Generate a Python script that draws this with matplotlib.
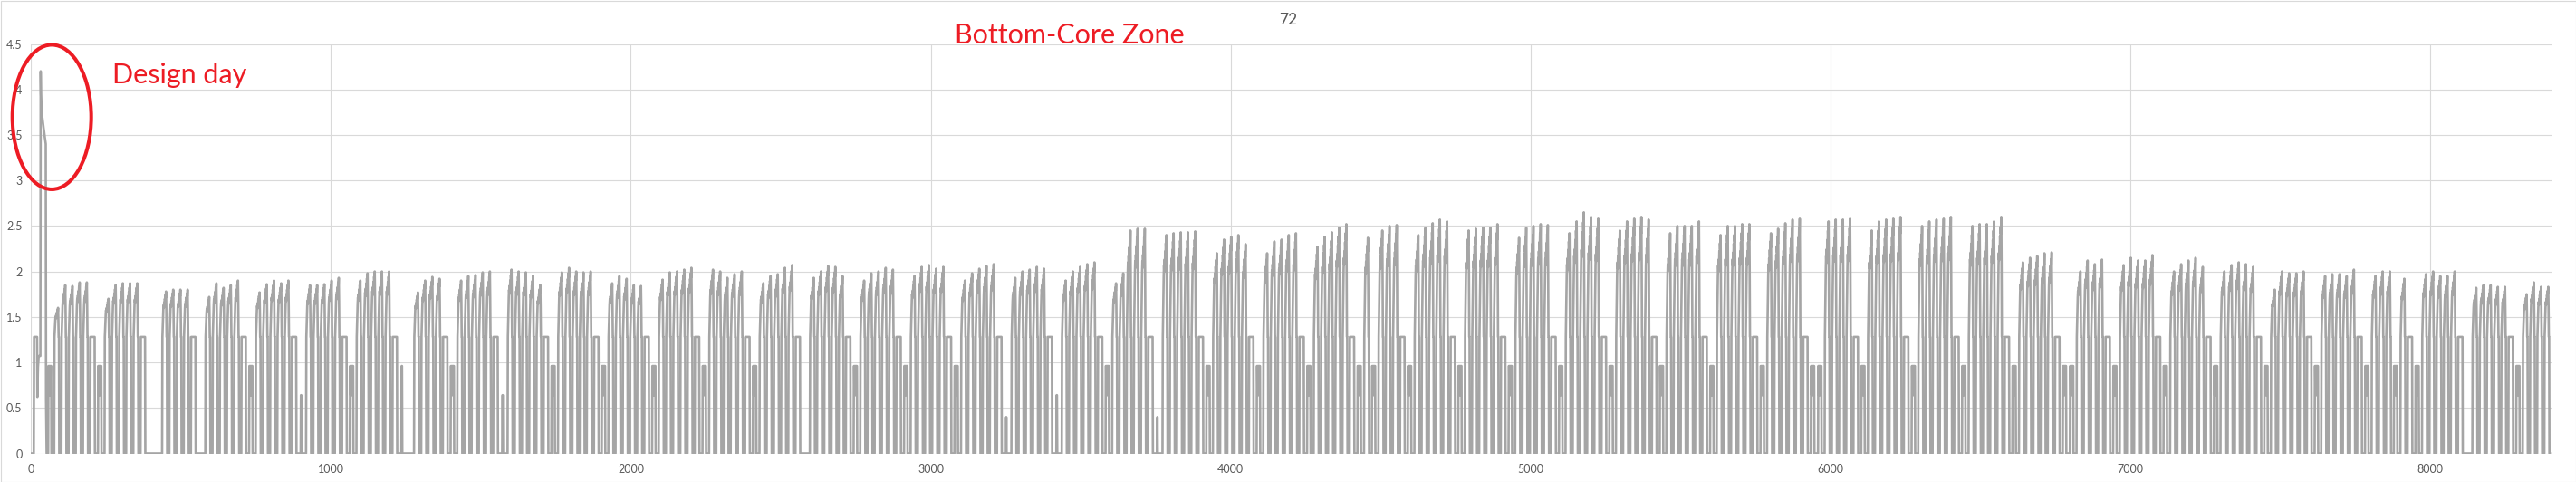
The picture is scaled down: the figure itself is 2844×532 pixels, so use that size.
import numpy as np
import matplotlib.pyplot as plt
from matplotlib.patches import Ellipse, Rectangle

plt.rcParams['font.family'] = ['Lato', 'DejaVu Sans']

# ---- data ----
n_hours = 8400
base_level = 1.28

# Jan 1-3 hourly, with the design day spike
start_hours = ([0] * 10 + [1.28] * 11 + [0.62, 0.80, 0.95, 1.00, 1.05] + [1.07] * 6 +
               [4.20, 3.95, 3.85, 3.80, 3.75, 3.70, 3.68, 3.65,
                3.62, 3.60, 3.57, 3.55, 3.52, 3.50, 3.47, 3.45, 3.42, 3.40, 0.60, 0.30] +
               [0] * 6 + [0.96, 0.96, 0.64, 0.96, 0.96, 0.96, 0.64, 0.96, 0.96, 0.96] + [0] * 4)

# weekday peaks Mon..Fri for each week from Jan 4 on (None = holiday)
day_peaks = [
    [1.60, 1.85, 1.84, 1.88, 1.88],
    [1.70, 1.85, 1.87, 1.87, 1.87],
    [None, 1.78, 1.80, 1.80, 1.80],
    [1.72, 1.87, 1.82, 1.85, 1.90],
    [1.77, 1.86, 1.90, 1.87, 1.90],
    [1.85, 1.85, 1.86, 1.90, 1.93],
    [1.90, 1.98, 2.00, 2.00, 2.00],
    [None, 1.77, 1.90, 1.94, 1.92],
    [1.90, 1.95, 1.96, 1.99, 2.00],
    [2.02, 2.00, 1.99, 1.95, 1.85],
    [1.99, 2.04, 2.00, 1.99, 2.00],
    [1.87, 1.95, 1.92, 1.85, 1.84],
    [1.91, 1.99, 2.00, 2.02, 2.04],
    [2.02, 2.00, 1.93, 1.97, 2.00],
    [1.87, 1.95, 1.97, 2.04, 2.07],
    [1.93, 2.00, 2.06, 2.05, 1.95],
    [1.90, 1.98, 2.00, 2.04, 2.02],
    [1.95, 2.05, 2.07, 2.03, 2.05],
    [1.90, 1.98, 2.03, 2.06, 2.08],
    [1.93, 2.00, 2.02, 2.05, 2.03],
    [1.90, 2.00, 2.05, 2.08, 2.10],
    [1.87, 1.98, 2.45, 2.47, 2.47],
    [2.40, 2.42, 2.43, 2.43, 2.44],
    [2.20, 2.35, 2.38, 2.40, 2.30],
    [2.20, 2.33, 2.35, 2.40, 2.42],
    [2.27, 2.38, 2.43, 2.48, 2.52],
    [2.37, None, 2.45, 2.50, 2.51],
    [2.40, 2.48, 2.53, 2.57, 2.55],
    [2.45, 2.47, 2.48, 2.48, 2.52],
    [2.37, 2.48, 2.50, 2.52, 2.51],
    [2.42, 2.55, 2.65, 2.60, 2.58],
    [2.45, 2.55, 2.58, 2.60, 2.57],
    [2.42, 2.50, 2.50, 2.50, 2.55],
    [2.40, 2.50, 2.50, 2.52, 2.52],
    [2.42, 2.47, 2.53, 2.57, 2.58],
    [None, 2.55, 2.57, 2.57, 2.58],
    [2.45, 2.55, 2.57, 2.58, 2.60],
    [2.50, 2.55, 2.57, 2.58, 2.60],
    [2.50, 2.52, 2.52, 2.55, 2.60],
    [2.10, 2.15, 2.17, 2.20, 2.21],
    [None, 2.00, 2.12, 2.08, 2.13],
    [2.07, 2.15, 2.12, 2.12, 2.18],
    [2.00, 2.08, 2.12, 2.15, 2.05],
    [2.00, 2.07, 2.10, 2.08, 2.05],
    [1.80, 2.00, 1.98, 1.98, 2.00],
    [1.95, 1.97, 1.97, 1.95, 2.02],
    [1.95, 2.00, 2.00, None, 1.92],
    [1.97, 2.00, 1.95, 1.95, 2.00],
    [1.82, 1.85, 1.85, 1.83, 1.83],
    [1.75, 1.88, 1.83, 1.83, 1.85],
]
# holidays that still run the low (0.96) schedule; the other None days are off
low_days = [(26, 1), (35, 0), (40, 0), (46, 3)]
# Sunday of each week: B = low block, t = short 0.96, s = short 0.64, q = tiny, - = off
sunday_kind = "B--BsBtBsB" "BBBB-BBBqs" "BqBBBBBBBB" "BBBBBBBBBB" "BBBBBBB-BB"

# hourly shapes of one day
weekday_frac = ([None] * 6 +
                [0, .2, .45, .6, .7, .64, .76, .7, .84, .78, .92, .86, 1.0, .6, 0, 0] +
                [None] * 2)
saturday = [0] * 6 + [1.28] * 15 + [0] * 3
sunday_shapes = {
    'B': [0] * 8 + [0.96, 0.96, 0.64, 0.96, 0.96, 0.96, 0.64, 0.96, 0.96, 0.96, 0.96] + [0] * 5,
    't': [0] * 12 + [0.96, 0.96] + [0] * 10,
    's': [0] * 12 + [0.64, 0.64] + [0] * 10,
    'q': [0] * 12 + [0.40] + [0] * 11,
    '-': [0] * 24,
}

series = list(start_hours)
for k, peaks in enumerate(day_peaks):
    for d, p in enumerate(peaks):
        if p is None:
            series += sunday_shapes['B'] if (k, d) in low_days else [0] * 24
        else:
            series += [0 if f is None else base_level + f * (p - base_level) for f in weekday_frac]
    series += saturday
    series += sunday_shapes[sunday_kind[k]]
series = np.array(series[:n_hours])
hours = np.arange(len(series))

# ---- figure ----
W, H = 2844, 532
fig = plt.figure(figsize=(W / 100, H / 100), dpi=100)
ax = fig.add_axes([34.3 / W, 1 - 500.5 / H, (2817 - 34.3) / W, (500.5 - 48.5) / H])

ax.plot(hours, series, color='#A5A5A5', lw=1.9)

ax.set_xlim(0, 8405)
ax.set_ylim(0, 4.5)
ax.set_xticks(np.arange(0, 8001, 1000))
yt = np.arange(0, 4.51, 0.5)
ax.set_yticks(yt)
ax.set_yticklabels(['%g' % v for v in yt])
ax.tick_params(length=0, labelsize=9, labelcolor='#595959')
ax.tick_params(axis='x', pad=8)
ax.tick_params(axis='y', pad=7)
ax.grid(color='#D9D9D9', lw=0.8)
ax.set_axisbelow(True)
for s in ax.spines.values():
    s.set_visible(False)

fig.text(0.5, 1 - 22 / H, '72', ha='center', va='center', fontsize=12.5, color='#595959')
fig.text(1053.6 / W, 1 - 47.7 / H, 'Bottom-Core Zone', ha='left', va='baseline',
         fontsize=22, color='#ED1C24')
fig.text(124.3 / W, 1 - 91.6 / H, 'Design day', ha='left', va='baseline',
         fontsize=22, color='#ED1C24')
fig.add_artist(Ellipse((57.2 / W, 1 - 129.2 / H), 87 / W, 159.5 / H, transform=fig.transFigure,
                       fill=False, ec='#ED1C24', lw=2.9))
fig.add_artist(Rectangle((0.5 / W, 0.5 / H), (W - 1) / W, (H - 1) / H, transform=fig.transFigure,
                         fill=False, ec='#D9D9D9', lw=0.8))

fig.savefig('out.png', dpi=100)
